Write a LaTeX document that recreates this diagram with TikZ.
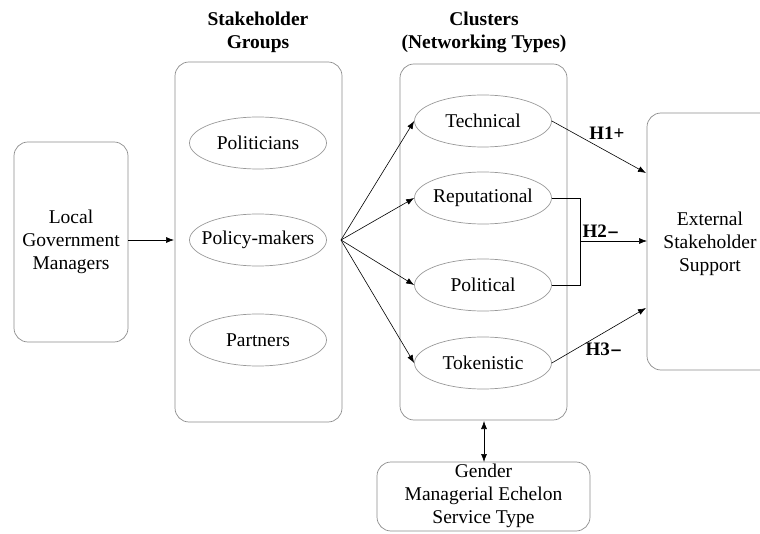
\documentclass[tikz,border=0pt]{standalone}
\usepackage{fontspec}
\setmainfont{Liberation Serif}
\usetikzlibrary{arrows.meta,shapes.geometric}
\begin{document}
\begin{tikzpicture}[x=1pt,y=-1pt,
  box/.style={draw=black!45,line width=0.7pt,rounded corners=14pt},
  oval/.style={draw=black!40,line width=0.7pt,ellipse,minimum width=137pt,minimum height=52pt,inner sep=0pt,font=\fontsize{19.5}{22}\selectfont},
  lbl/.style={font=\fontsize{19.5}{23}\selectfont,align=center},
  ttl/.style={font=\bfseries\fontsize{19.5}{23}\selectfont,align=center},
  hy/.style={font=\bfseries\fontsize{19}{20}\selectfont},
  arr/.style={-{Latex[length=8pt,width=6pt]},line width=0.6pt}]
\useasboundingbox (0,0) rectangle (760,534);
% boxes
\draw[box] (14,142) rectangle (128,342);
\node[lbl] (lgm) at (71,242) {Local\\Government\\Managers};
\coordinate (lgmE) at (128,240);
\draw[box] (175,62) rectangle (342,422);
\draw[box] (400,64) rectangle (567,420);
\draw[box] (647,113) rectangle (790,370);
\node[lbl] (ess) at (710,244) {External\\Stakeholder\\Support};
\coordinate (essW) at (647,241);
\coordinate (essU) at (646,173);
\coordinate (essD) at (646,308);
\draw[box] (377,462) rectangle (590,531);
\node[lbl] (ctl) at (483.5,496) {Gender\\Managerial Echelon\\Service Type};
\coordinate (ctlN) at (484,462);
\coordinate (cluS) at (484,421);
\coordinate (pmE) at (341,240);
% titles
\node[ttl] (t1) at (258,32) {Stakeholder\\Groups};
\node[ttl] (t2) at (484,32) {Clusters\\(Networking Types)};
% stakeholder ellipses
\node[oval] (pol) at (258,143) {\makebox[0pt]{Politicians}};
\node[oval] (pm) at (258,240) {\makebox[0pt]{Policy-makers}};
\node[oval] (par) at (258,340) {\makebox[0pt]{Partners}};
% cluster ellipses
\node[oval] (tec) at (483,121) {\makebox[0pt]{Technical}};
\node[oval] (rep) at (483,198) {\makebox[0pt]{Reputational}};
\node[oval] (plt) at (483,285) {\makebox[0pt]{Political}};
\node[oval] (tok) at (483,363) {\makebox[0pt]{Tokenistic}};
% arrows
\draw[arr] (lgmE) -- (174,240);
\draw[arr] (pmE) -- (tec.west);
\draw[arr] (pmE) -- (rep.west);
\draw[arr] (pmE) -- (plt.west);
\draw[arr] (pmE) -- (tok.west);
\draw[arr] (tec.east) -- (essU);
\draw[line width=0.6pt] (rep.east) -- (580,198) -- (580,285) -- (plt.east);
\coordinate (br) at (580,241);
\draw[arr] (br) -- (essW);
\draw[arr] (tok.east) -- (essD);
\draw[{Latex[length=8pt,width=6pt]}-{Latex[length=8pt,width=6pt]},line width=0.6pt] (cluS) -- (ctlN);
% labels
\node[hy] (h1) at (607,133) {H1+};
\node[hy] (h2) at (601,231) {H2{\fontspec{DejaVu Serif}\bfseries\fontsize{15}{16}\selectfont −}};
\node[hy] (h3) at (604,349) {H3{\fontspec{DejaVu Serif}\bfseries\fontsize{15}{16}\selectfont −}};
\end{tikzpicture}
\end{document}
